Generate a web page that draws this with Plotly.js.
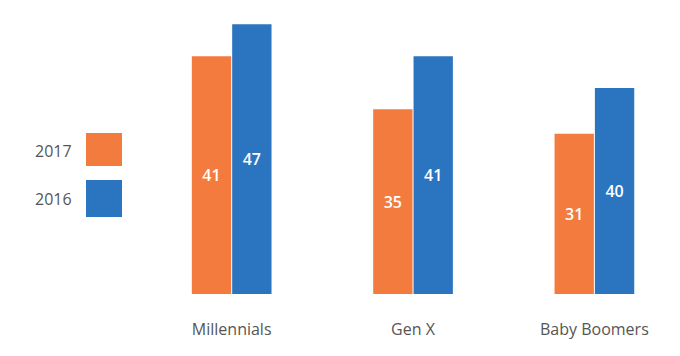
<!DOCTYPE html>
<html>
<head>
<meta charset="utf-8">
<script src="https://cdn.plot.ly/plotly-3.0.1.min.js"></script>
<style>html,body{margin:0;padding:0;background:#fff;}#chart{width:680px;height:356px;}</style>
</head>
<body>
<div id="chart"></div>
<script>
// Categories and series
var categories = ["Millennials", "Gen X", "Baby Boomers"];
var seriesNames = ["2017", "2016"];
// Printed value labels
var labels2017 = [41, 35, 31];
var labels2016 = [47, 41, 40];
// Bar heights as drawn in the reference (bars are not drawn to their labels)
var heights2017 = [41.4, 32.2, 27.9];
var heights2016 = [47, 41.4, 35.9];
var colors = ["#F47B3E", "#2B75C0"];

var W = 680, H = 356;
var M = {l: 141, r: 4, t: 7, b: 62};
var pw = W - M.l - M.r, ph = H - M.t - M.b;
function px(x) { return (x - M.l) / pw; }
function py(y) { return (H - M.b - y) / ph; }

var font = "'Open Sans', 'Noto Sans', sans-serif";

var traces = [
  {type: "bar", name: seriesNames[0], x: categories, y: heights2017,
   text: labels2017.map(String), textposition: "inside", insidetextanchor: "middle",
   textfont: {color: "#fff", size: 16, family: font, weight: 600}, marker: {color: colors[0]},
   hoverinfo: "skip", cliponaxis: false},
  {type: "bar", name: seriesNames[1], x: categories, y: heights2016,
   text: labels2016.map(String), textposition: "inside", insidetextanchor: "middle",
   textfont: {color: "#fff", size: 16, family: font, weight: 600}, marker: {color: colors[1]},
   hoverinfo: "skip", cliponaxis: false}
];

var shapes = [], annotations = [];
var legendTops = [133, 180], legendH = [33, 37];
for (var i = 0; i < seriesNames.length; i++) {
  shapes.push({type: "rect", xref: "paper", yref: "paper",
    x0: px(86), x1: px(122), y0: py(legendTops[i] + legendH[i]), y1: py(legendTops[i]),
    fillcolor: colors[i], line: {width: 0}});
  annotations.push({xref: "paper", yref: "paper", x: px(74), y: py(legendTops[i] + legendH[i] / 2 + 1),
    xanchor: "right", yanchor: "middle", showarrow: false, text: seriesNames[i],
    font: {size: 16, color: "#555", family: font}});
}

var layout = {
  width: W, height: H,
  margin: M,
  paper_bgcolor: "#fff", plot_bgcolor: "#fff",
  barmode: "group", bargap: 0.555, bargroupgap: 0.025,
  showlegend: false,
  font: {family: font, color: "#555"},
  xaxis: {type: "category", range: [-0.5, 2.45], showline: false, showgrid: false, zeroline: false,
          ticks: "outside", ticklen: 21, tickcolor: "rgba(0,0,0,0)",
          tickfont: {size: 16, color: "#555", family: font}, fixedrange: true},
  yaxis: {range: [0, 50], visible: false, showgrid: false, zeroline: false, fixedrange: true},
  shapes: shapes,
  annotations: annotations
};

Plotly.newPlot("chart", traces, layout, {displayModeBar: false, staticPlot: true});
</script>
</body>
</html>
